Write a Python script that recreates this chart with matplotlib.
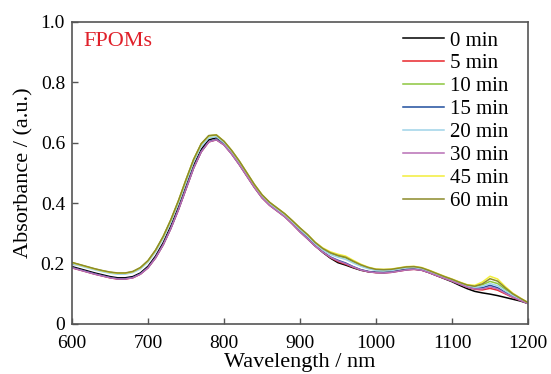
import matplotlib
matplotlib.use("Agg")
import matplotlib.pyplot as plt

# wavelength grid (nm), 10 nm steps
wl = list(range(600, 1201, 10))

# absorbance, one list per irradiation time
a_0 = [0.190, 0.183, 0.176, 0.169, 0.163, 0.157, 0.153, 0.153, 0.157, 0.169,
       0.191, 0.225, 0.269, 0.324, 0.387, 0.456, 0.525, 0.578, 0.610, 0.617,
       0.599, 0.569, 0.533, 0.495, 0.456, 0.422, 0.397, 0.378, 0.358, 0.334,
       0.308, 0.284, 0.259, 0.237, 0.218, 0.203, 0.195, 0.186, 0.178, 0.173,
       0.171, 0.171, 0.173, 0.177, 0.181, 0.182, 0.179, 0.170, 0.160, 0.150,
       0.140, 0.128, 0.117, 0.108, 0.103, 0.099, 0.094, 0.088, 0.082, 0.076,
       0.068]
a_5 = [0.186, 0.179, 0.172, 0.165, 0.159, 0.153, 0.149, 0.149, 0.153, 0.165,
       0.186, 0.219, 0.262, 0.316, 0.378, 0.447, 0.516, 0.570, 0.603, 0.610,
       0.593, 0.563, 0.528, 0.490, 0.452, 0.418, 0.393, 0.374, 0.355, 0.331,
       0.305, 0.282, 0.258, 0.238, 0.220, 0.207, 0.198, 0.188, 0.179, 0.173,
       0.170, 0.169, 0.171, 0.175, 0.179, 0.181, 0.178, 0.170, 0.160, 0.151,
       0.142, 0.132, 0.122, 0.115, 0.113, 0.118, 0.112, 0.100, 0.088, 0.078,
       0.068]
a_10 = [0.203, 0.196, 0.189, 0.182, 0.176, 0.171, 0.168, 0.168, 0.173, 0.186,
        0.209, 0.244, 0.289, 0.344, 0.407, 0.477, 0.544, 0.596, 0.623, 0.625,
        0.604, 0.574, 0.539, 0.500, 0.461, 0.427, 0.402, 0.383, 0.364, 0.341,
        0.317, 0.294, 0.268, 0.248, 0.234, 0.225, 0.219, 0.206, 0.195, 0.186,
        0.180, 0.179, 0.180, 0.184, 0.188, 0.189, 0.185, 0.176, 0.166, 0.156,
        0.147, 0.137, 0.128, 0.124, 0.130, 0.141, 0.134, 0.115, 0.097, 0.083,
        0.070]
a_15 = [0.187, 0.180, 0.173, 0.166, 0.160, 0.154, 0.150, 0.150, 0.154, 0.166,
        0.187, 0.220, 0.263, 0.317, 0.379, 0.448, 0.517, 0.571, 0.604, 0.611,
        0.594, 0.564, 0.529, 0.491, 0.453, 0.419, 0.394, 0.375, 0.356, 0.332,
        0.306, 0.283, 0.259, 0.239, 0.222, 0.211, 0.202, 0.190, 0.180, 0.174,
        0.171, 0.170, 0.172, 0.176, 0.180, 0.182, 0.179, 0.171, 0.161, 0.152,
        0.143, 0.133, 0.123, 0.118, 0.120, 0.128, 0.120, 0.105, 0.091, 0.079,
        0.068]
a_20 = [0.200, 0.193, 0.186, 0.179, 0.173, 0.168, 0.165, 0.165, 0.170, 0.182,
        0.205, 0.239, 0.283, 0.337, 0.399, 0.468, 0.536, 0.588, 0.616, 0.620,
        0.600, 0.570, 0.535, 0.496, 0.457, 0.423, 0.398, 0.379, 0.360, 0.337,
        0.313, 0.290, 0.265, 0.245, 0.230, 0.221, 0.214, 0.202, 0.191, 0.183,
        0.177, 0.176, 0.177, 0.182, 0.186, 0.187, 0.183, 0.174, 0.164, 0.154,
        0.145, 0.135, 0.126, 0.121, 0.125, 0.134, 0.127, 0.110, 0.094, 0.081,
        0.069]
a_30 = [0.186, 0.179, 0.172, 0.165, 0.159, 0.153, 0.149, 0.149, 0.153, 0.165,
        0.186, 0.219, 0.262, 0.316, 0.378, 0.447, 0.516, 0.570, 0.603, 0.610,
        0.593, 0.563, 0.528, 0.490, 0.452, 0.418, 0.393, 0.374, 0.355, 0.331,
        0.305, 0.282, 0.258, 0.238, 0.221, 0.209, 0.200, 0.189, 0.179, 0.173,
        0.170, 0.169, 0.171, 0.175, 0.179, 0.181, 0.178, 0.170, 0.160, 0.151,
        0.142, 0.132, 0.122, 0.116, 0.116, 0.123, 0.116, 0.102, 0.089, 0.078,
        0.068]
a_45 = [0.203, 0.196, 0.189, 0.182, 0.176, 0.171, 0.168, 0.168, 0.173, 0.186,
        0.209, 0.244, 0.289, 0.344, 0.407, 0.477, 0.544, 0.596, 0.623, 0.626,
        0.605, 0.575, 0.540, 0.501, 0.462, 0.428, 0.403, 0.384, 0.365, 0.342,
        0.318, 0.296, 0.271, 0.252, 0.239, 0.231, 0.225, 0.211, 0.198, 0.188,
        0.182, 0.181, 0.182, 0.186, 0.190, 0.191, 0.187, 0.178, 0.168, 0.158,
        0.149, 0.139, 0.130, 0.128, 0.139, 0.158, 0.149, 0.124, 0.102, 0.086,
        0.071]
a_60 = [0.204, 0.197, 0.190, 0.183, 0.177, 0.172, 0.169, 0.169, 0.174, 0.187,
        0.210, 0.245, 0.290, 0.345, 0.408, 0.478, 0.545, 0.597, 0.624, 0.626,
        0.605, 0.575, 0.540, 0.501, 0.462, 0.428, 0.403, 0.384, 0.365, 0.342,
        0.318, 0.296, 0.270, 0.250, 0.236, 0.227, 0.221, 0.208, 0.196, 0.187,
        0.181, 0.180, 0.181, 0.185, 0.189, 0.190, 0.186, 0.177, 0.167, 0.157,
        0.148, 0.138, 0.129, 0.125, 0.133, 0.150, 0.142, 0.120, 0.100, 0.085,
        0.071]

labels = ["0 min", "5 min", "10 min", "15 min", "20 min", "30 min", "45 min", "60 min"]
colors = ["#000000", "#e8262b", "#8dc63f", "#1f4e9e", "#9fd3e8", "#b86fb5", "#f2ee3a", "#8c8a2a"]
series = [a_0, a_5, a_10, a_15, a_20, a_30, a_45, a_60]

plt.rcParams["font.family"] = ["Liberation Serif", "DejaVu Serif"]
plt.rcParams["font.size"] = 14

fig = plt.figure(figsize=(5.51, 3.74), dpi=100)
ax = fig.add_axes([72 / 551, 50 / 374, 456 / 551, 302 / 374])

for y, c, lab in zip(series, colors, labels):
    ax.plot(wl, y, color=c, lw=1.1, label=lab)

ax.set_xlim(600, 1200)
ax.set_ylim(0, 1.0)
ax.set_xticks([600, 700, 800, 900, 1000, 1100, 1200])
ax.set_yticks([0, 0.2, 0.4, 0.6, 0.8, 1.0])
ax.set_yticklabels(["0", "0.2", "0.4", "0.6", "0.8", "1.0"])
ax.tick_params(direction="in", length=4, width=1, color="#555555")
ax.tick_params(axis="x", pad=8)
ax.tick_params(axis="y", pad=5)
for s in ax.spines.values():
    s.set_color("#555555")
    s.set_linewidth(1.2)

ax.set_xlabel("Wavelength / nm", fontsize=16, labelpad=1)
ax.set_ylabel("Absorbance / (a.u.)", fontsize=16, labelpad=5)

ax.text(83 / 551, 1 - 42 / 374, "FPOMs", color="#e0202a", fontsize=16,
        transform=fig.transFigure, va="center", ha="left")

ax.legend(loc="upper left", frameon=False, fontsize=15, handlelength=1.97,
          handletextpad=0.29, labelspacing=0.16, borderpad=0, borderaxespad=0,
          bbox_to_anchor=(403 / 551, 1 - 31 / 374), bbox_transform=fig.transFigure)

fig.savefig("out.png", dpi=100)
